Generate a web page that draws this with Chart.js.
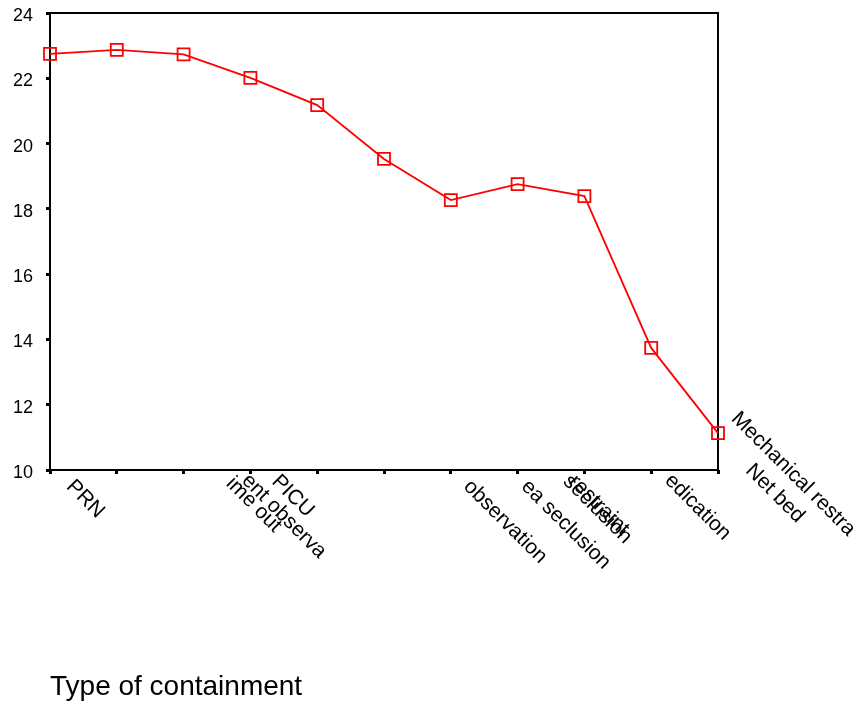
<!DOCTYPE html>
<html>
<head>
<meta charset="utf-8">
<script src="https://cdn.jsdelivr.net/npm/chart.js@4/dist/chart.umd.min.js"></script>
<style>
  html, body { margin: 0; padding: 0; background: #fff; }
  #wrap { width: 859px; height: 708px; }
</style>
</head>
<body>
<div id="wrap"><canvas id="myChart"></canvas></div>
<script>
// truncated labels, as printed on the original chart
const categories = ["PRN", "ime out", "ent observa", "PICU", "observation", "ea seclusion",
  "seclusion", "restraint", "edication", "Net bed", "Mechanical restra"];
const values = [22.75, 22.87, 22.73, 22.01, 21.18, 19.53, 18.27, 18.76, 18.39, 13.74, 11.13];
const yTicks = [10, 12, 14, 16, 18, 20, 22, 24];

// where each rotated label starts, relative to its tick (the original ones are all over the place)
const labelNudge = [[27, 6], [120, 3], [69, 0], [32, 1], [157, 6], [148, 6],
  [123, 1], [62, 1], [91, 0], [105, -10], [24, -62]];

const frame = {
  id: "frame",
  beforeDatasetsDraw(chart) {
    const { ctx, chartArea: a } = chart;
    ctx.save();
    ctx.strokeStyle = "#000";
    ctx.lineWidth = 2;
    ctx.strokeRect(a.left, a.top, a.right - a.left, a.bottom - a.top);
    ctx.restore();
  }
};

const slantLabels = {
  id: "slantLabels",
  afterDraw(chart) {
    const { ctx } = chart;
    const xs = chart.scales.x;
    ctx.save();
    ctx.fillStyle = "#000";
    ctx.font = "21px 'Liberation Sans', Arial, sans-serif";
    ctx.textAlign = "left";
    ctx.textBaseline = "top";
    categories.forEach((lab, i) => {
      const x = xs.getPixelForValue(i) + labelNudge[i][0];
      const y = xs.top + labelNudge[i][1];
      ctx.save();
      ctx.translate(x, y);
      ctx.rotate(Math.PI / 4);
      ctx.fillText(lab, 0, 0);
      ctx.restore();
    });
    ctx.restore();
  }
};

const ctx = document.getElementById("myChart").getContext("2d");

new Chart(ctx, {
  type: "line",
  data: {
    labels: categories,
    datasets: [{
      data: values,
      borderColor: "#ff0000",
      borderWidth: 1.8,
      tension: 0,
      fill: false,
      pointStyle: "rect",
      pointRadius: 8.5,
      pointBorderWidth: 1.8,
      pointBorderColor: "#ff0000",
      pointBackgroundColor: "rgba(255,255,255,0)"
    }]
  },
  options: {
    responsive: true,
    maintainAspectRatio: false,
    animation: false,
    layout: { padding: { top: 13, right: 141, left: 0, bottom: 0 } },
    plugins: {
      legend: { display: false },
      tooltip: { enabled: false }
    },
    scales: {
      x: {
        offset: false,
        border: { display: false },
        grid: { drawOnChartArea: false, tickLength: 4, tickWidth: 3, tickColor: "#000" },
        ticks: { display: false },
        title: {
          display: true,
          text: "Type of containment",
          align: "start",
          color: "#000",
          font: { family: "'Liberation Sans', Arial, sans-serif", size: 28 },
          padding: { top: 0, bottom: 4 }
        },
        afterFit(s) { s.height = 238; s.paddingLeft = 0; s.paddingRight = 0; }
      },
      y: {
        min: 10,
        max: 24,
        afterBuildTicks(s) { s.ticks = yTicks.map(v => ({ value: v })); },
        border: { display: false },
        grid: { drawOnChartArea: false, tickLength: 4, tickWidth: 3, tickColor: "#000" },
        ticks: {
          color: "#000",
          padding: 13,
          labelOffset: 3,
          font: { family: "'Liberation Sans', Arial, sans-serif", size: 18 }
        },
        afterFit(s) { s.width = 50; s.paddingTop = 0; s.paddingBottom = 0; }
      }
    }
  },
  plugins: [frame, slantLabels]
});
</script>
</body>
</html>
